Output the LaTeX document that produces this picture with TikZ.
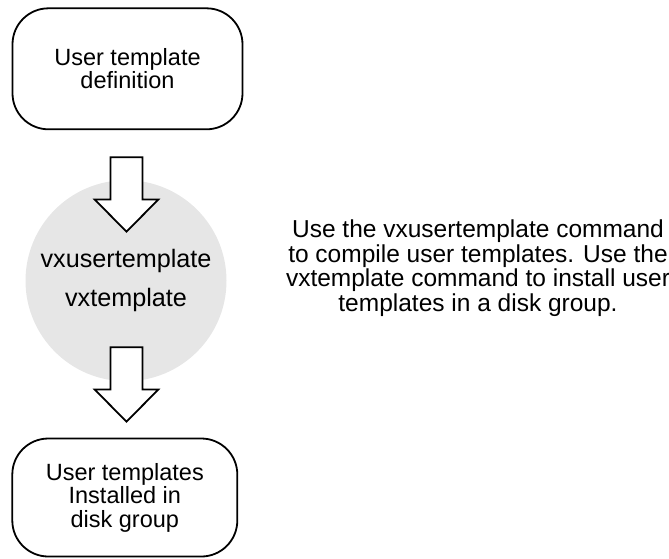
\documentclass[tikz,border=0pt]{standalone}
\usepackage{fontspec}
\setmainfont{Liberation Sans}
\usetikzlibrary{calc}
\begin{document}
\begin{tikzpicture}[x=1pt,y=-1pt,
  roundbox/.style={draw=black, line width=1.8pt, rounded corners=36pt, fill=white,
    inner sep=0pt, align=center, font=\fontsize{23.5pt}{23.5pt}\selectfont},
  toolcircle/.style={circle, fill=circlegray, draw=none, minimum size=201pt, inner sep=0pt,
    align=center, font=\fontsize{25.2pt}{38.5pt}\selectfont},
  blockarrow/.style={draw=black, line width=1.8pt, fill=white, line join=miter},
  note/.style={inner sep=0pt, align=center, font=\fontsize{24.5pt}{24.5pt}\selectfont}
]
\definecolor{circlegray}{HTML}{E6E6E6}
\useasboundingbox (0,0) rectangle (669,558);

\node[roundbox, minimum width=230pt, minimum height=121pt] (def) at (127.5,68.8)
  {User template\\definition};

\node[toolcircle] (tool) at (126,280.7) {vxusertemplate\\vxtemplate};

\node[roundbox, minimum width=225pt, minimum height=118pt] (inst) at (124.8,497.5)
  {User templates\\Installed in\\disk group};

\node[note] (desc) at (478,268.4)
  {Use the vxusertemplate command\\to compile user templates. Use the\\vxtemplate command to install user\\templates in a disk group.};

% block arrow from def to tool
\coordinate (a1) at (126.5,157.3);
\draw[blockarrow] ($(a1)+(-16,0)$) -- ($(a1)+(16,0)$) -- ($(a1)+(16,42.2)$)
  -- ($(a1)+(31.8,42.2)$) -- ($(a1)+(0,74.4)$) -- ($(a1)+(-31.8,42.2)$)
  -- ($(a1)+(-16,42.2)$) -- cycle;

% block arrow from tool to inst
\coordinate (a2) at (126.5,347.3);
\draw[blockarrow] ($(a2)+(-16,0)$) -- ($(a2)+(16,0)$) -- ($(a2)+(16,42.2)$)
  -- ($(a2)+(31.8,42.2)$) -- ($(a2)+(0,74.4)$) -- ($(a2)+(-31.8,42.2)$)
  -- ($(a2)+(-16,42.2)$) -- cycle;
\end{tikzpicture}
\end{document}
